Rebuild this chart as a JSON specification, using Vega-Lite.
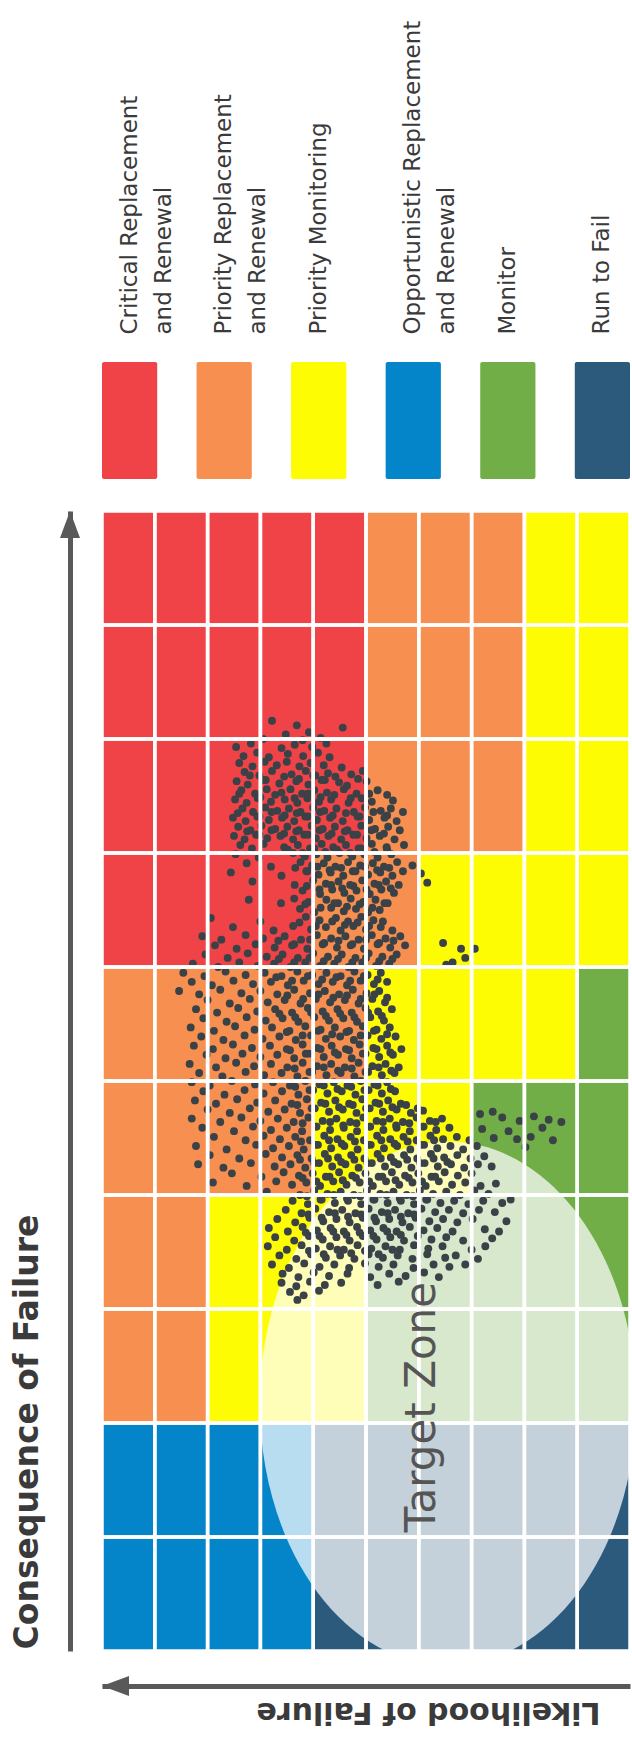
{
"$schema": "https://vega.github.io/schema/vega-lite/v6.json",
"padding": {"top": 20, "left": 11, "right": 0, "bottom": 14},
"background": "white",
"spacing": 30,
"config": {
  "view": {"stroke": null},
  "font": "DejaVu Sans",
  "axisTop": {"domain": false, "ticks": false, "tickSize": 0, "grid": false, "labelAngle": 270, "labelAlign": "left", "labelBaseline": "middle", "labelFontSize": 23, "labelLineHeight": 34, "labelPadding": 28, "labelColor": "#3a3a3a", "labelFont": "DejaVu Sans", "labelLimit": 500, "labelOverlap": false},
  "axisLeft": {"offset": 32, "domainColor": "#595959", "domainWidth": 5, "domainCap": "butt", "ticks": false, "labels": false, "grid": false, "titleAngle": 270, "titleAlign": "left", "titleBaseline": "bottom", "titleY": 1138, "titlePadding": 26, "titleFontSize": 33, "titleFontWeight": "bold", "titleColor": "#3a3a3a", "titleFont": "DejaVu Sans"},
  "axisBottom": {"offset": 35, "domainColor": "#595959", "domainWidth": 5, "domainCap": "butt", "ticks": false, "labels": false, "grid": false, "titleAngle": 180, "titleAlign": "right", "titleBaseline": "alphabetic", "titleX": 154, "titlePadding": 16, "titleFontSize": 30, "titleFontWeight": "bold", "titleColor": "#3a3a3a", "titleFont": "DejaVu Sans"}
},
"datasets": {
"zones": [
{"zone": "Critical Replacement and Renewal"},
{"zone": "Priority Replacement and Renewal"},
{"zone": "Priority Monitoring"},
{"zone": "Opportunistic Replacement and Renewal"},
{"zone": "Monitor"},
{"zone": "Run to Fail"}
],
"annotation": [
{"label": "Target Zone"}
],
"cells": [
{"l0":90,"l1":100,"c0":90,"c1":100,"zone":"Critical Replacement and Renewal"},
{"l0":80,"l1":90,"c0":90,"c1":100,"zone":"Critical Replacement and Renewal"},
{"l0":70,"l1":80,"c0":90,"c1":100,"zone":"Critical Replacement and Renewal"},
{"l0":60,"l1":70,"c0":90,"c1":100,"zone":"Critical Replacement and Renewal"},
{"l0":50,"l1":60,"c0":90,"c1":100,"zone":"Critical Replacement and Renewal"},
{"l0":40,"l1":50,"c0":90,"c1":100,"zone":"Priority Replacement and Renewal"},
{"l0":30,"l1":40,"c0":90,"c1":100,"zone":"Priority Replacement and Renewal"},
{"l0":20,"l1":30,"c0":90,"c1":100,"zone":"Priority Replacement and Renewal"},
{"l0":10,"l1":20,"c0":90,"c1":100,"zone":"Priority Monitoring"},
{"l0":0,"l1":10,"c0":90,"c1":100,"zone":"Priority Monitoring"},
{"l0":90,"l1":100,"c0":80,"c1":90,"zone":"Critical Replacement and Renewal"},
{"l0":80,"l1":90,"c0":80,"c1":90,"zone":"Critical Replacement and Renewal"},
{"l0":70,"l1":80,"c0":80,"c1":90,"zone":"Critical Replacement and Renewal"},
{"l0":60,"l1":70,"c0":80,"c1":90,"zone":"Critical Replacement and Renewal"},
{"l0":50,"l1":60,"c0":80,"c1":90,"zone":"Critical Replacement and Renewal"},
{"l0":40,"l1":50,"c0":80,"c1":90,"zone":"Priority Replacement and Renewal"},
{"l0":30,"l1":40,"c0":80,"c1":90,"zone":"Priority Replacement and Renewal"},
{"l0":20,"l1":30,"c0":80,"c1":90,"zone":"Priority Replacement and Renewal"},
{"l0":10,"l1":20,"c0":80,"c1":90,"zone":"Priority Monitoring"},
{"l0":0,"l1":10,"c0":80,"c1":90,"zone":"Priority Monitoring"},
{"l0":90,"l1":100,"c0":70,"c1":80,"zone":"Critical Replacement and Renewal"},
{"l0":80,"l1":90,"c0":70,"c1":80,"zone":"Critical Replacement and Renewal"},
{"l0":70,"l1":80,"c0":70,"c1":80,"zone":"Critical Replacement and Renewal"},
{"l0":60,"l1":70,"c0":70,"c1":80,"zone":"Critical Replacement and Renewal"},
{"l0":50,"l1":60,"c0":70,"c1":80,"zone":"Critical Replacement and Renewal"},
{"l0":40,"l1":50,"c0":70,"c1":80,"zone":"Priority Replacement and Renewal"},
{"l0":30,"l1":40,"c0":70,"c1":80,"zone":"Priority Replacement and Renewal"},
{"l0":20,"l1":30,"c0":70,"c1":80,"zone":"Priority Replacement and Renewal"},
{"l0":10,"l1":20,"c0":70,"c1":80,"zone":"Priority Monitoring"},
{"l0":0,"l1":10,"c0":70,"c1":80,"zone":"Priority Monitoring"},
{"l0":90,"l1":100,"c0":60,"c1":70,"zone":"Critical Replacement and Renewal"},
{"l0":80,"l1":90,"c0":60,"c1":70,"zone":"Critical Replacement and Renewal"},
{"l0":70,"l1":80,"c0":60,"c1":70,"zone":"Critical Replacement and Renewal"},
{"l0":60,"l1":70,"c0":60,"c1":70,"zone":"Critical Replacement and Renewal"},
{"l0":50,"l1":60,"c0":60,"c1":70,"zone":"Priority Replacement and Renewal"},
{"l0":40,"l1":50,"c0":60,"c1":70,"zone":"Priority Replacement and Renewal"},
{"l0":30,"l1":40,"c0":60,"c1":70,"zone":"Priority Monitoring"},
{"l0":20,"l1":30,"c0":60,"c1":70,"zone":"Priority Monitoring"},
{"l0":10,"l1":20,"c0":60,"c1":70,"zone":"Priority Monitoring"},
{"l0":0,"l1":10,"c0":60,"c1":70,"zone":"Priority Monitoring"},
{"l0":90,"l1":100,"c0":50,"c1":60,"zone":"Priority Replacement and Renewal"},
{"l0":80,"l1":90,"c0":50,"c1":60,"zone":"Priority Replacement and Renewal"},
{"l0":70,"l1":80,"c0":50,"c1":60,"zone":"Priority Replacement and Renewal"},
{"l0":60,"l1":70,"c0":50,"c1":60,"zone":"Priority Replacement and Renewal"},
{"l0":50,"l1":60,"c0":50,"c1":60,"zone":"Priority Replacement and Renewal"},
{"l0":40,"l1":50,"c0":50,"c1":60,"zone":"Priority Monitoring"},
{"l0":30,"l1":40,"c0":50,"c1":60,"zone":"Priority Monitoring"},
{"l0":20,"l1":30,"c0":50,"c1":60,"zone":"Priority Monitoring"},
{"l0":10,"l1":20,"c0":50,"c1":60,"zone":"Priority Monitoring"},
{"l0":0,"l1":10,"c0":50,"c1":60,"zone":"Monitor"},
{"l0":90,"l1":100,"c0":40,"c1":50,"zone":"Priority Replacement and Renewal"},
{"l0":80,"l1":90,"c0":40,"c1":50,"zone":"Priority Replacement and Renewal"},
{"l0":70,"l1":80,"c0":40,"c1":50,"zone":"Priority Replacement and Renewal"},
{"l0":60,"l1":70,"c0":40,"c1":50,"zone":"Priority Replacement and Renewal"},
{"l0":50,"l1":60,"c0":40,"c1":50,"zone":"Priority Monitoring"},
{"l0":40,"l1":50,"c0":40,"c1":50,"zone":"Priority Monitoring"},
{"l0":30,"l1":40,"c0":40,"c1":50,"zone":"Priority Monitoring"},
{"l0":20,"l1":30,"c0":40,"c1":50,"zone":"Monitor"},
{"l0":10,"l1":20,"c0":40,"c1":50,"zone":"Monitor"},
{"l0":0,"l1":10,"c0":40,"c1":50,"zone":"Monitor"},
{"l0":90,"l1":100,"c0":30,"c1":40,"zone":"Priority Replacement and Renewal"},
{"l0":80,"l1":90,"c0":30,"c1":40,"zone":"Priority Replacement and Renewal"},
{"l0":70,"l1":80,"c0":30,"c1":40,"zone":"Priority Monitoring"},
{"l0":60,"l1":70,"c0":30,"c1":40,"zone":"Priority Monitoring"},
{"l0":50,"l1":60,"c0":30,"c1":40,"zone":"Priority Monitoring"},
{"l0":40,"l1":50,"c0":30,"c1":40,"zone":"Monitor"},
{"l0":30,"l1":40,"c0":30,"c1":40,"zone":"Monitor"},
{"l0":20,"l1":30,"c0":30,"c1":40,"zone":"Monitor"},
{"l0":10,"l1":20,"c0":30,"c1":40,"zone":"Monitor"},
{"l0":0,"l1":10,"c0":30,"c1":40,"zone":"Monitor"},
{"l0":90,"l1":100,"c0":20,"c1":30,"zone":"Priority Replacement and Renewal"},
{"l0":80,"l1":90,"c0":20,"c1":30,"zone":"Priority Replacement and Renewal"},
{"l0":70,"l1":80,"c0":20,"c1":30,"zone":"Priority Monitoring"},
{"l0":60,"l1":70,"c0":20,"c1":30,"zone":"Priority Monitoring"},
{"l0":50,"l1":60,"c0":20,"c1":30,"zone":"Priority Monitoring"},
{"l0":40,"l1":50,"c0":20,"c1":30,"zone":"Monitor"},
{"l0":30,"l1":40,"c0":20,"c1":30,"zone":"Monitor"},
{"l0":20,"l1":30,"c0":20,"c1":30,"zone":"Monitor"},
{"l0":10,"l1":20,"c0":20,"c1":30,"zone":"Monitor"},
{"l0":0,"l1":10,"c0":20,"c1":30,"zone":"Monitor"},
{"l0":90,"l1":100,"c0":10,"c1":20,"zone":"Opportunistic Replacement and Renewal"},
{"l0":80,"l1":90,"c0":10,"c1":20,"zone":"Opportunistic Replacement and Renewal"},
{"l0":70,"l1":80,"c0":10,"c1":20,"zone":"Opportunistic Replacement and Renewal"},
{"l0":60,"l1":70,"c0":10,"c1":20,"zone":"Opportunistic Replacement and Renewal"},
{"l0":50,"l1":60,"c0":10,"c1":20,"zone":"Run to Fail"},
{"l0":40,"l1":50,"c0":10,"c1":20,"zone":"Run to Fail"},
{"l0":30,"l1":40,"c0":10,"c1":20,"zone":"Run to Fail"},
{"l0":20,"l1":30,"c0":10,"c1":20,"zone":"Run to Fail"},
{"l0":10,"l1":20,"c0":10,"c1":20,"zone":"Run to Fail"},
{"l0":0,"l1":10,"c0":10,"c1":20,"zone":"Run to Fail"},
{"l0":90,"l1":100,"c0":0,"c1":10,"zone":"Opportunistic Replacement and Renewal"},
{"l0":80,"l1":90,"c0":0,"c1":10,"zone":"Opportunistic Replacement and Renewal"},
{"l0":70,"l1":80,"c0":0,"c1":10,"zone":"Opportunistic Replacement and Renewal"},
{"l0":60,"l1":70,"c0":0,"c1":10,"zone":"Opportunistic Replacement and Renewal"},
{"l0":50,"l1":60,"c0":0,"c1":10,"zone":"Run to Fail"},
{"l0":40,"l1":50,"c0":0,"c1":10,"zone":"Run to Fail"},
{"l0":30,"l1":40,"c0":0,"c1":10,"zone":"Run to Fail"},
{"l0":20,"l1":30,"c0":0,"c1":10,"zone":"Run to Fail"},
{"l0":10,"l1":20,"c0":0,"c1":10,"zone":"Run to Fail"},
{"l0":0,"l1":10,"c0":0,"c1":10,"zone":"Run to Fail"}
],
"assets": [
{"l":67.8,"c":81.6},{"l":54.4,"c":81.0},{"l":63.1,"c":81.2},{"l":65.2,"c":80.4},{"l":60.8,"c":80.6},
{"l":62.0,"c":79.9},{"l":58.6,"c":80.1},{"l":69.5,"c":80.0},
{"l":74.6,"c":79.3},{"l":71.8,"c":79.6},{"l":66.0,"c":79.2},{"l":63.5,"c":79.5},{"l":60.2,"c":79.3},{"l":57.5,"c":79.6},
{"l":73.2,"c":78.5},{"l":70.6,"c":78.8},{"l":68.4,"c":78.4},{"l":64.8,"c":78.7},{"l":61.9,"c":78.5},{"l":59.1,"c":78.8},{"l":56.9,"c":78.4},
{"l":74.0,"c":77.9},{"l":71.5,"c":77.6},{"l":69.2,"c":78.0},{"l":66.9,"c":77.7},{"l":65.0,"c":78.0},{"l":62.6,"c":77.6},{"l":60.5,"c":77.9},{"l":58.0,"c":77.7},{"l":54.6,"c":77.5},
{"l":73.0,"c":77.1},{"l":70.2,"c":76.8},{"l":67.8,"c":77.2},{"l":64.1,"c":76.9},{"l":61.4,"c":77.2},{"l":59.6,"c":76.8},{"l":57.2,"c":77.0},{"l":52.8,"c":76.9},{"l":50.6,"c":77.2},
{"l":74.5,"c":76.3},{"l":72.4,"c":76.0},{"l":69.6,"c":76.4},{"l":66.4,"c":76.1},{"l":63.2,"c":76.3},{"l":60.9,"c":76.0},{"l":58.4,"c":76.4},{"l":55.1,"c":76.2},{"l":53.6,"c":75.9},{"l":49.9,"c":76.3},
{"l":73.6,"c":75.5},{"l":71.0,"c":75.2},{"l":68.8,"c":75.6},{"l":66.0,"c":75.3},{"l":64.3,"c":75.6},{"l":62.1,"c":75.2},{"l":59.8,"c":75.5},{"l":57.4,"c":75.3},{"l":54.2,"c":75.6},{"l":51.8,"c":75.2},{"l":47.8,"c":75.5},{"l":46.0,"c":75.1},
{"l":74.8,"c":74.7},{"l":72.6,"c":74.4},{"l":70.5,"c":74.8},{"l":68.0,"c":74.5},{"l":65.4,"c":74.7},{"l":63.0,"c":74.4},{"l":61.1,"c":74.8},{"l":58.9,"c":74.5},{"l":56.6,"c":74.7},{"l":53.3,"c":74.4},{"l":50.8,"c":74.8},{"l":48.9,"c":74.5},{"l":44.9,"c":74.6},
{"l":73.4,"c":73.9},{"l":71.4,"c":73.6},{"l":69.1,"c":74.0},{"l":66.8,"c":73.7},{"l":64.6,"c":73.9},{"l":62.4,"c":73.6},{"l":60.0,"c":74.0},{"l":57.9,"c":73.7},{"l":55.6,"c":73.9},{"l":52.3,"c":73.6},{"l":50.2,"c":74.0},{"l":47.2,"c":73.7},{"l":45.3,"c":73.9},{"l":43.0,"c":73.6},
{"l":75.2,"c":73.1},{"l":72.8,"c":72.8},{"l":70.6,"c":73.2},{"l":68.4,"c":72.9},{"l":65.9,"c":73.1},{"l":63.6,"c":72.8},{"l":61.5,"c":73.2},{"l":59.3,"c":72.9},{"l":56.8,"c":73.1},{"l":54.4,"c":72.8},{"l":51.6,"c":73.2},{"l":49.4,"c":72.9},{"l":46.5,"c":73.1},{"l":44.2,"c":72.8},
{"l":74.2,"c":72.3},{"l":71.9,"c":72.0},{"l":69.8,"c":72.4},{"l":67.2,"c":72.1},{"l":64.9,"c":72.3},{"l":62.7,"c":72.0},{"l":60.3,"c":72.4},{"l":58.2,"c":72.1},{"l":55.9,"c":72.3},{"l":53.5,"c":72.0},{"l":50.9,"c":72.4},{"l":48.3,"c":72.1},{"l":45.8,"c":72.3},{"l":43.6,"c":72.0},
{"l":75.0,"c":71.5},{"l":73.0,"c":71.2},{"l":70.8,"c":71.6},{"l":68.7,"c":71.3},{"l":66.2,"c":71.5},{"l":63.8,"c":71.2},{"l":61.7,"c":71.6},{"l":59.5,"c":71.3},{"l":57.1,"c":71.5},{"l":54.7,"c":71.2},{"l":52.4,"c":71.6},{"l":49.9,"c":71.3},{"l":47.4,"c":71.5},{"l":44.6,"c":71.2},
{"l":73.8,"c":70.7},{"l":71.6,"c":70.4},{"l":69.4,"c":70.8},{"l":65.5,"c":70.5},{"l":62.9,"c":70.7},{"l":60.6,"c":70.4},{"l":58.4,"c":70.8},{"l":56.2,"c":70.5},{"l":53.8,"c":70.7},{"l":51.4,"c":70.4},{"l":48.9,"c":70.8},{"l":46.1,"c":70.5},{"l":42.8,"c":70.7},
{"l":74.7,"c":69.9},{"l":70.3,"c":69.6},{"l":63.8,"c":70.0},{"l":61.6,"c":69.7},{"l":59.4,"c":69.9},{"l":57.3,"c":69.6},{"l":55.0,"c":70.0},{"l":52.6,"c":69.7},{"l":50.3,"c":69.9},{"l":47.8,"c":69.6},{"l":45.2,"c":69.9},
{"l":72.6,"c":69.1},{"l":68.0,"c":68.8},{"l":62.4,"c":69.2},{"l":60.2,"c":68.9},{"l":58.0,"c":69.1},{"l":55.8,"c":68.8},{"l":53.4,"c":69.2},{"l":51.1,"c":68.9},{"l":48.7,"c":69.1},{"l":46.6,"c":68.8},{"l":44.1,"c":69.2},{"l":41.2,"c":68.9},
{"l":75.6,"c":68.3},{"l":66.0,"c":68.0},{"l":61.1,"c":68.4},{"l":59.0,"c":68.1},{"l":56.7,"c":68.3},{"l":54.3,"c":68.0},{"l":52.0,"c":68.4},{"l":49.6,"c":68.1},{"l":47.3,"c":68.3},{"l":45.0,"c":68.0},{"l":39.6,"c":68.2},
{"l":71.5,"c":67.5},{"l":63.5,"c":67.2},{"l":60.0,"c":67.6},{"l":57.6,"c":67.3},{"l":55.2,"c":67.5},{"l":53.0,"c":67.2},{"l":50.7,"c":67.6},{"l":48.4,"c":67.3},{"l":46.2,"c":67.5},{"l":43.8,"c":67.2},{"l":38.4,"c":67.4},
{"l":62.0,"c":66.7},{"l":58.7,"c":66.4},{"l":56.4,"c":66.8},{"l":54.1,"c":66.5},{"l":51.8,"c":66.7},{"l":49.3,"c":66.4},{"l":47.1,"c":66.8},{"l":44.7,"c":66.5},
{"l":72.2,"c":65.9},{"l":66.1,"c":65.6},{"l":63.6,"c":66.0},{"l":60.9,"c":65.7},{"l":57.5,"c":65.9},{"l":55.3,"c":65.6},{"l":52.9,"c":66.0},{"l":50.5,"c":65.7},{"l":48.2,"c":65.9},{"l":45.9,"c":65.6},
{"l":62.5,"c":65.1},{"l":59.8,"c":64.8},{"l":56.6,"c":65.2},{"l":54.2,"c":64.9},{"l":51.9,"c":65.1},{"l":49.6,"c":64.8},{"l":47.4,"c":65.0},
{"l":79.4,"c":64.3},{"l":70.0,"c":64.0},{"l":61.4,"c":64.4},{"l":58.8,"c":64.1},{"l":55.7,"c":64.3},{"l":53.4,"c":64.0},{"l":50.9,"c":64.4},{"l":48.6,"c":64.1},
{"l":75.2,"c":63.5},{"l":67.5,"c":63.2},{"l":63.8,"c":63.6},{"l":60.4,"c":63.3},{"l":57.6,"c":63.5},{"l":54.8,"c":63.2},{"l":52.4,"c":63.6},{"l":50.0,"c":63.3},{"l":47.2,"c":63.5},{"l":45.0,"c":63.2},
{"l":81.0,"c":62.7},{"l":77.4,"c":62.4},{"l":72.8,"c":62.8},{"l":69.5,"c":62.5},{"l":65.4,"c":62.7},{"l":62.3,"c":62.4},{"l":59.3,"c":62.8},{"l":56.6,"c":62.5},{"l":53.9,"c":62.7},{"l":51.4,"c":62.4},{"l":48.9,"c":62.8},{"l":46.3,"c":62.5},{"l":43.5,"c":62.7},{"l":35.4,"c":62.1},
{"l":78.6,"c":61.9},{"l":74.5,"c":61.6},{"l":70.9,"c":62.0},{"l":67.3,"c":61.7},{"l":64.0,"c":61.9},{"l":61.1,"c":61.6},{"l":58.2,"c":62.0},{"l":55.5,"c":61.7},{"l":52.9,"c":61.9},{"l":50.4,"c":61.6},{"l":47.8,"c":62.0},{"l":45.4,"c":61.7},{"l":42.6,"c":61.9},{"l":32.0,"c":61.6},{"l":29.4,"c":61.6},
{"l":80.4,"c":61.1},{"l":76.2,"c":60.8},{"l":72.4,"c":61.2},{"l":68.8,"c":60.9},{"l":65.8,"c":61.1},{"l":62.9,"c":60.8},{"l":60.0,"c":61.2},{"l":57.2,"c":60.9},{"l":54.6,"c":61.1},{"l":52.0,"c":60.8},{"l":49.5,"c":61.2},{"l":46.9,"c":60.9},{"l":44.2,"c":61.1},{"l":33.6,"c":60.4},
{"l":82.8,"c":60.3},{"l":78.0,"c":60.0},{"l":74.0,"c":60.4},{"l":70.5,"c":60.1},{"l":67.4,"c":60.3},{"l":64.3,"c":60.0},{"l":61.5,"c":60.4},{"l":58.7,"c":60.1},{"l":56.0,"c":60.3},{"l":53.3,"c":60.0},{"l":50.7,"c":60.4},{"l":48.1,"c":60.1},{"l":45.6,"c":60.3},{"l":34.8,"c":60.2},{"l":31.2,"c":60.8},
{"l":84.6,"c":59.5},{"l":80.6,"c":59.2},{"l":76.6,"c":59.6},{"l":72.8,"c":59.3},{"l":69.2,"c":59.5},{"l":66.0,"c":59.2},{"l":63.0,"c":59.6},{"l":60.2,"c":59.3},{"l":57.5,"c":59.5},{"l":54.8,"c":59.2},{"l":52.2,"c":59.6},{"l":49.7,"c":59.3},{"l":47.2,"c":59.5},
{"l":83.0,"c":58.7},{"l":79.2,"c":58.4},{"l":75.1,"c":58.8},{"l":71.4,"c":58.5},{"l":68.0,"c":58.7},{"l":64.8,"c":58.4},{"l":61.8,"c":58.8},{"l":59.0,"c":58.5},{"l":56.3,"c":58.7},{"l":53.6,"c":58.4},{"l":51.0,"c":58.8},{"l":48.5,"c":58.5},{"l":46.0,"c":58.7},
{"l":85.4,"c":57.9},{"l":81.6,"c":57.6},{"l":77.6,"c":58.0},{"l":73.6,"c":57.7},{"l":70.0,"c":57.9},{"l":66.8,"c":57.6},{"l":63.6,"c":58.0},{"l":60.6,"c":57.7},{"l":57.8,"c":57.9},{"l":55.1,"c":57.6},{"l":52.5,"c":58.0},{"l":49.9,"c":57.7},{"l":47.5,"c":57.9},
{"l":80.0,"c":57.1},{"l":75.8,"c":56.8},{"l":72.0,"c":57.2},{"l":68.6,"c":56.9},{"l":65.4,"c":57.1},{"l":62.4,"c":56.8},{"l":59.5,"c":57.2},{"l":56.8,"c":56.9},{"l":54.0,"c":57.1},{"l":51.4,"c":56.8},{"l":48.8,"c":57.2},{"l":46.4,"c":56.9},
{"l":82.2,"c":56.3},{"l":78.2,"c":56.0},{"l":74.2,"c":56.4},{"l":70.6,"c":56.1},{"l":67.2,"c":56.3},{"l":64.0,"c":56.0},{"l":61.0,"c":56.4},{"l":58.2,"c":56.1},{"l":55.4,"c":56.3},{"l":52.7,"c":56.0},{"l":50.1,"c":56.4},{"l":47.7,"c":56.1},{"l":45.1,"c":56.3},
{"l":80.8,"c":55.5},{"l":76.4,"c":55.2},{"l":72.6,"c":55.6},{"l":69.0,"c":55.3},{"l":65.8,"c":55.5},{"l":62.8,"c":55.2},{"l":59.8,"c":55.6},{"l":57.0,"c":55.3},{"l":54.3,"c":55.5},{"l":51.7,"c":55.2},{"l":49.2,"c":55.6},{"l":46.6,"c":55.3},
{"l":83.2,"c":54.7},{"l":78.8,"c":54.4},{"l":74.8,"c":54.8},{"l":71.1,"c":54.5},{"l":67.8,"c":54.7},{"l":64.5,"c":54.4},{"l":61.5,"c":54.8},{"l":58.6,"c":54.5},{"l":55.9,"c":54.7},{"l":53.2,"c":54.4},{"l":50.6,"c":54.8},{"l":48.0,"c":54.5},{"l":45.5,"c":54.7},
{"l":81.2,"c":53.9},{"l":77.0,"c":53.6},{"l":73.0,"c":54.0},{"l":69.6,"c":53.7},{"l":66.4,"c":53.9},{"l":63.3,"c":53.6},{"l":60.4,"c":54.0},{"l":57.6,"c":53.7},{"l":54.9,"c":53.9},{"l":52.3,"c":53.6},{"l":49.7,"c":54.0},{"l":47.1,"c":53.7},{"l":44.4,"c":53.9},
{"l":82.6,"c":53.1},{"l":79.0,"c":52.8},{"l":75.2,"c":53.2},{"l":71.6,"c":52.9},{"l":68.2,"c":53.1},{"l":65.0,"c":52.8},{"l":62.0,"c":53.2},{"l":59.2,"c":52.9},{"l":56.5,"c":53.1},{"l":53.8,"c":52.8},{"l":51.2,"c":53.2},{"l":48.6,"c":52.9},{"l":46.0,"c":53.1},{"l":43.3,"c":52.8},
{"l":80.2,"c":52.3},{"l":76.6,"c":52.0},{"l":73.4,"c":52.4},{"l":70.0,"c":52.1},{"l":66.8,"c":52.3},{"l":63.6,"c":52.0},{"l":60.8,"c":52.4},{"l":58.0,"c":52.1},{"l":55.3,"c":52.3},{"l":52.7,"c":52.0},{"l":50.1,"c":52.4},{"l":47.5,"c":52.1},{"l":44.9,"c":52.3},
{"l":83.4,"c":51.5},{"l":78.4,"c":51.2},{"l":74.6,"c":51.6},{"l":71.2,"c":51.3},{"l":68.0,"c":51.5},{"l":64.9,"c":51.2},{"l":62.0,"c":51.6},{"l":59.3,"c":51.3},{"l":56.6,"c":51.5},{"l":54.0,"c":51.2},{"l":51.4,"c":51.6},{"l":48.8,"c":51.3},{"l":46.3,"c":51.5},{"l":43.8,"c":51.2},
{"l":81.6,"c":50.7},{"l":77.2,"c":50.4},{"l":72.8,"c":50.8},{"l":69.3,"c":50.5},{"l":66.0,"c":50.7},{"l":63.0,"c":50.4},{"l":60.2,"c":50.8},{"l":57.5,"c":50.5},{"l":54.8,"c":50.7},{"l":52.2,"c":50.4},{"l":49.6,"c":50.8},{"l":47.0,"c":50.5},{"l":44.6,"c":50.7},
{"l":83.0,"c":49.9},{"l":79.6,"c":49.6},{"l":75.4,"c":50.0},{"l":71.0,"c":49.7},{"l":67.6,"c":49.9},{"l":64.4,"c":49.6},{"l":61.5,"c":50.0},{"l":58.8,"c":49.7},{"l":56.1,"c":49.9},{"l":53.5,"c":49.6},{"l":51.0,"c":50.0},{"l":48.4,"c":49.7},{"l":46.0,"c":49.9},
{"l":80.8,"c":49.1},{"l":76.8,"c":48.8},{"l":73.0,"c":49.2},{"l":69.4,"c":48.9},{"l":65.9,"c":49.1},{"l":62.8,"c":48.8},{"l":60.0,"c":49.2},{"l":57.3,"c":48.9},{"l":54.6,"c":49.1},{"l":52.0,"c":48.8},{"l":49.5,"c":49.2},{"l":47.0,"c":48.9},{"l":44.5,"c":49.1},
{"l":82.4,"c":48.3},{"l":78.4,"c":48.0},{"l":74.4,"c":48.4},{"l":70.6,"c":48.1},{"l":67.2,"c":48.3},{"l":64.1,"c":48.0},{"l":61.2,"c":48.4},{"l":58.5,"c":48.1},{"l":55.8,"c":48.3},{"l":53.2,"c":48.0},{"l":50.7,"c":48.4},{"l":48.2,"c":48.1},{"l":45.8,"c":48.3},{"l":43.4,"c":48.0},
{"l":80.0,"c":47.5},{"l":75.8,"c":47.2},{"l":72.0,"c":47.6},{"l":68.5,"c":47.3},{"l":65.4,"c":47.5},{"l":62.5,"c":47.2},{"l":59.7,"c":47.6},{"l":57.0,"c":47.3},{"l":54.4,"c":47.5},{"l":51.8,"c":47.2},{"l":49.3,"c":47.6},{"l":46.8,"c":47.3},{"l":44.2,"c":47.5},{"l":41.5,"c":47.2},{"l":39.2,"c":47.4},{"l":28.4,"c":47.1},{"l":26.0,"c":47.3},
{"l":83.0,"c":46.7},{"l":77.6,"c":46.4},{"l":73.6,"c":46.8},{"l":70.0,"c":46.5},{"l":66.7,"c":46.7},{"l":63.7,"c":46.4},{"l":60.9,"c":46.8},{"l":58.2,"c":46.5},{"l":55.6,"c":46.7},{"l":53.0,"c":46.4},{"l":50.5,"c":46.8},{"l":48.0,"c":46.5},{"l":45.5,"c":46.7},{"l":43.0,"c":46.4},{"l":40.4,"c":46.8},{"l":37.9,"c":46.5},{"l":35.6,"c":46.7},{"l":24.2,"c":46.8},{"l":20.9,"c":46.5},{"l":18.2,"c":46.9},{"l":15.4,"c":46.6},{"l":13.0,"c":46.4},
{"l":81.0,"c":45.9},{"l":75.0,"c":45.6},{"l":71.4,"c":46.0},{"l":68.0,"c":45.7},{"l":65.0,"c":45.9},{"l":62.1,"c":45.6},{"l":59.4,"c":46.0},{"l":56.8,"c":45.7},{"l":54.2,"c":45.9},{"l":51.7,"c":45.6},{"l":49.2,"c":46.0},{"l":46.7,"c":45.7},{"l":44.2,"c":45.9},{"l":41.7,"c":45.6},{"l":39.1,"c":46.0},{"l":36.7,"c":45.7},{"l":34.2,"c":45.9},{"l":28.0,"c":45.8},{"l":23.0,"c":45.6},{"l":16.6,"c":45.9},
{"l":78.8,"c":45.1},{"l":72.8,"c":44.8},{"l":69.4,"c":45.2},{"l":66.3,"c":44.9},{"l":63.4,"c":45.1},{"l":60.6,"c":44.8},{"l":57.9,"c":45.2},{"l":55.4,"c":44.9},{"l":52.9,"c":45.1},{"l":50.4,"c":44.8},{"l":47.9,"c":45.2},{"l":45.4,"c":44.9},{"l":42.9,"c":45.1},{"l":40.4,"c":44.8},{"l":37.8,"c":45.2},{"l":35.4,"c":44.9},{"l":32.8,"c":45.1},{"l":30.4,"c":44.8},{"l":25.8,"c":45.0},{"l":21.4,"c":44.9},{"l":18.8,"c":45.1},{"l":14.6,"c":44.8},
{"l":82.2,"c":44.3},{"l":76.4,"c":44.0},{"l":70.8,"c":44.4},{"l":67.6,"c":44.1},{"l":64.6,"c":44.3},{"l":61.8,"c":44.0},{"l":59.1,"c":44.4},{"l":56.6,"c":44.1},{"l":54.1,"c":44.3},{"l":51.6,"c":44.0},{"l":49.1,"c":44.4},{"l":46.6,"c":44.1},{"l":44.1,"c":44.3},{"l":41.6,"c":44.0},{"l":39.0,"c":44.4},{"l":36.5,"c":44.1},{"l":34.0,"c":44.3},{"l":31.6,"c":44.0},{"l":29.0,"c":44.3},{"l":19.8,"c":44.2},
{"l":79.6,"c":43.5},{"l":74.0,"c":43.2},{"l":69.0,"c":43.6},{"l":65.9,"c":43.3},{"l":63.0,"c":43.5},{"l":60.3,"c":43.2},{"l":57.8,"c":43.6},{"l":55.3,"c":43.3},{"l":52.8,"c":43.5},{"l":50.3,"c":43.2},{"l":47.8,"c":43.6},{"l":45.3,"c":43.3},{"l":42.8,"c":43.5},{"l":40.3,"c":43.2},{"l":37.7,"c":43.6},{"l":35.2,"c":43.3},{"l":32.7,"c":43.5},{"l":30.2,"c":43.2},{"l":27.6,"c":43.4},
{"l":81.8,"c":42.7},{"l":77.0,"c":42.4},{"l":71.8,"c":42.8},{"l":67.3,"c":42.5},{"l":64.3,"c":42.7},{"l":61.5,"c":42.4},{"l":58.9,"c":42.8},{"l":56.4,"c":42.5},{"l":53.9,"c":42.7},{"l":51.4,"c":42.4},{"l":48.9,"c":42.8},{"l":46.4,"c":42.5},{"l":43.9,"c":42.7},{"l":41.4,"c":42.4},{"l":38.9,"c":42.8},{"l":36.4,"c":42.5},{"l":33.9,"c":42.7},{"l":31.4,"c":42.4},{"l":28.8,"c":42.7},{"l":26.2,"c":42.5},
{"l":75.4,"c":41.9},{"l":69.8,"c":41.6},{"l":65.6,"c":42.0},{"l":62.7,"c":41.7},{"l":60.1,"c":41.9},{"l":57.6,"c":41.6},{"l":55.1,"c":42.0},{"l":52.6,"c":41.7},{"l":50.1,"c":41.9},{"l":47.6,"c":41.6},{"l":45.1,"c":42.0},{"l":42.6,"c":41.7},{"l":40.1,"c":41.9},{"l":37.6,"c":41.6},{"l":35.1,"c":42.0},{"l":32.6,"c":41.7},{"l":30.0,"c":41.9},
{"l":79.0,"c":41.1},{"l":72.6,"c":40.8},{"l":67.0,"c":41.2},{"l":64.0,"c":40.9},{"l":61.3,"c":41.1},{"l":58.7,"c":40.8},{"l":56.2,"c":41.2},{"l":53.7,"c":40.9},{"l":51.2,"c":41.1},{"l":48.7,"c":40.8},{"l":46.2,"c":41.2},{"l":43.7,"c":40.9},{"l":41.2,"c":41.1},{"l":38.7,"c":40.8},{"l":36.2,"c":41.2},{"l":33.7,"c":40.9},{"l":31.2,"c":41.1},{"l":28.3,"c":40.8},{"l":25.4,"c":41.0},
{"l":68.8,"c":40.3},{"l":62.5,"c":40.0},{"l":59.8,"c":40.4},{"l":57.3,"c":40.1},{"l":54.8,"c":40.3},{"l":52.3,"c":40.0},{"l":49.8,"c":40.4},{"l":47.3,"c":40.1},{"l":44.8,"c":40.3},{"l":42.3,"c":40.0},{"l":39.8,"c":40.4},{"l":37.3,"c":40.1},{"l":34.8,"c":40.3},{"l":32.2,"c":40.0},{"l":29.5,"c":40.4},{"l":26.8,"c":40.1},
{"l":63.9,"c":39.5},{"l":61.0,"c":39.2},{"l":58.4,"c":39.6},{"l":55.9,"c":39.3},{"l":53.4,"c":39.5},{"l":50.9,"c":39.2},{"l":48.4,"c":39.6},{"l":45.9,"c":39.3},{"l":43.4,"c":39.5},{"l":40.9,"c":39.2},{"l":38.4,"c":39.6},{"l":35.9,"c":39.3},{"l":33.3,"c":39.5},{"l":30.6,"c":39.2},{"l":27.8,"c":39.5},{"l":24.2,"c":39.3},{"l":22.6,"c":39.6},
{"l":65.2,"c":38.7},{"l":62.2,"c":38.4},{"l":59.6,"c":38.8},{"l":57.0,"c":38.5},{"l":54.5,"c":38.7},{"l":52.0,"c":38.4},{"l":49.5,"c":38.8},{"l":47.0,"c":38.5},{"l":44.5,"c":38.7},{"l":42.0,"c":38.4},{"l":39.5,"c":38.8},{"l":36.9,"c":38.5},{"l":34.3,"c":38.7},{"l":31.6,"c":38.4},{"l":28.6,"c":38.7},{"l":25.6,"c":38.5},
{"l":66.8,"c":37.9},{"l":63.4,"c":37.6},{"l":60.7,"c":38.0},{"l":58.1,"c":37.7},{"l":55.6,"c":37.9},{"l":53.1,"c":37.6},{"l":50.6,"c":38.0},{"l":48.1,"c":37.7},{"l":45.6,"c":37.9},{"l":43.1,"c":37.6},{"l":40.6,"c":38.0},{"l":38.0,"c":37.7},{"l":35.4,"c":37.9},{"l":32.7,"c":37.6},{"l":29.8,"c":37.9},{"l":23.4,"c":37.7},
{"l":68.4,"c":37.1},{"l":64.8,"c":36.8},{"l":62.0,"c":37.2},{"l":59.3,"c":36.9},{"l":56.7,"c":37.1},{"l":54.2,"c":36.8},{"l":51.7,"c":37.2},{"l":49.2,"c":36.9},{"l":46.7,"c":37.1},{"l":44.2,"c":36.8},{"l":41.7,"c":37.2},{"l":39.1,"c":36.9},{"l":36.5,"c":37.1},{"l":33.6,"c":36.8},{"l":27.5,"c":37.0},{"l":24.8,"c":36.8},
{"l":67.2,"c":36.3},{"l":63.6,"c":36.0},{"l":60.8,"c":36.4},{"l":58.2,"c":36.1},{"l":55.6,"c":36.3},{"l":53.1,"c":36.0},{"l":50.6,"c":36.4},{"l":48.0,"c":36.1},{"l":45.4,"c":36.3},{"l":42.8,"c":36.0},{"l":40.2,"c":36.4},{"l":37.6,"c":36.1},{"l":34.8,"c":36.3},{"l":31.6,"c":36.0},{"l":26.1,"c":36.2},
{"l":68.6,"c":35.5},{"l":65.0,"c":35.2},{"l":62.2,"c":35.6},{"l":59.5,"c":35.3},{"l":56.8,"c":35.5},{"l":54.2,"c":35.2},{"l":51.6,"c":35.6},{"l":49.0,"c":35.3},{"l":46.3,"c":35.5},{"l":43.6,"c":35.2},{"l":40.9,"c":35.6},{"l":38.2,"c":35.3},{"l":35.5,"c":35.5},{"l":30.0,"c":35.2},{"l":27.4,"c":35.5},
{"l":66.4,"c":34.7},{"l":63.2,"c":34.4},{"l":60.4,"c":34.8},{"l":57.6,"c":34.5},{"l":54.9,"c":34.7},{"l":52.2,"c":34.4},{"l":49.5,"c":34.8},{"l":46.8,"c":34.5},{"l":44.0,"c":34.7},{"l":41.2,"c":34.4},{"l":38.4,"c":34.8},{"l":35.0,"c":34.5},{"l":33.0,"c":34.7},{"l":28.8,"c":34.4},
{"l":67.8,"c":33.9},{"l":64.6,"c":33.6},{"l":61.7,"c":34.0},{"l":58.8,"c":33.7},{"l":56.0,"c":33.9},{"l":53.2,"c":33.6},{"l":50.2,"c":34.0},{"l":47.6,"c":33.7},{"l":44.8,"c":33.9},{"l":41.0,"c":33.6},{"l":37.2,"c":33.9},{"l":34.2,"c":33.7},{"l":31.2,"c":33.9},
{"l":65.8,"c":33.1},{"l":62.8,"c":32.8},{"l":59.9,"c":33.2},{"l":57.0,"c":32.9},{"l":53.5,"c":33.1},{"l":49.2,"c":32.8},{"l":45.6,"c":33.1},{"l":42.5,"c":32.9},{"l":39.0,"c":33.2},{"l":36.2,"c":32.8},
{"l":66.0,"c":32.3},{"l":63.2,"c":32.0},{"l":60.6,"c":32.4},{"l":57.8,"c":32.1},{"l":54.7,"c":32.3},{"l":47.8,"c":32.1},{"l":43.8,"c":32.4},
{"l":64.4,"c":31.5},{"l":61.8,"c":31.2},{"l":58.9,"c":31.6},{"l":63.0,"c":30.8},
{"l":72.0,"c":76.8},{"l":69.0,"c":76.4},{"l":65.5,"c":76.7},{"l":62.7,"c":76.5},{"l":60.0,"c":76.8},{"l":57.8,"c":76.4},{"l":55.8,"c":76.7},{"l":51.5,"c":76.5},
{"l":74.0,"c":75.2},{"l":70.0,"c":74.9},{"l":67.2,"c":75.1},{"l":63.5,"c":74.8},{"l":61.0,"c":75.2},{"l":58.6,"c":74.9},{"l":56.0,"c":75.1},{"l":52.9,"c":74.8},{"l":49.4,"c":75.2},
{"l":74.3,"c":73.5},{"l":70.2,"c":73.2},{"l":67.9,"c":73.6},{"l":65.4,"c":73.3},{"l":63.1,"c":73.5},{"l":61.0,"c":73.2},{"l":58.7,"c":73.6},{"l":56.3,"c":73.3},{"l":53.8,"c":73.5},{"l":51.2,"c":73.2},{"l":48.6,"c":73.6},{"l":46.0,"c":73.3},
{"l":72.5,"c":71.9},{"l":70.2,"c":71.6},{"l":67.9,"c":72.0},{"l":65.5,"c":71.7},{"l":63.2,"c":71.9},{"l":61.0,"c":71.6},{"l":58.8,"c":72.0},{"l":56.5,"c":71.7},{"l":54.0,"c":71.9},{"l":51.7,"c":71.6},{"l":49.0,"c":72.0},{"l":46.6,"c":71.7},
{"l":64.8,"c":70.3},{"l":62.0,"c":70.0},{"l":59.8,"c":70.4},{"l":57.7,"c":70.1},{"l":55.5,"c":70.3},{"l":53.0,"c":70.0},{"l":50.9,"c":70.4},{"l":48.4,"c":70.1},{"l":46.0,"c":70.3},
{"l":63.4,"c":68.7},{"l":61.3,"c":68.4},{"l":59.2,"c":68.8},{"l":56.9,"c":68.5},{"l":54.7,"c":68.7},{"l":52.5,"c":68.4},{"l":50.2,"c":68.8},{"l":47.9,"c":68.5},{"l":45.6,"c":68.7},{"l":43.0,"c":68.4},
{"l":61.2,"c":67.1},{"l":58.8,"c":66.8},{"l":56.6,"c":67.2},{"l":54.5,"c":66.9},{"l":52.4,"c":67.1},{"l":49.9,"c":66.8},{"l":47.6,"c":67.2},{"l":45.3,"c":66.9},
{"l":61.5,"c":65.5},{"l":58.6,"c":65.2},{"l":56.0,"c":65.6},{"l":53.6,"c":65.3},{"l":51.2,"c":65.5},{"l":48.8,"c":65.2},{"l":46.5,"c":65.6},
{"l":62.6,"c":63.9},{"l":59.5,"c":63.6},{"l":56.4,"c":64.0},{"l":54.0,"c":63.7},{"l":51.6,"c":63.9},{"l":49.4,"c":63.6},{"l":46.8,"c":64.0},
{"l":66.6,"c":62.3},{"l":63.6,"c":62.0},{"l":60.6,"c":62.4},{"l":57.9,"c":62.1},{"l":55.2,"c":62.3},{"l":52.6,"c":62.0},{"l":50.0,"c":62.4},{"l":47.5,"c":62.1},{"l":44.8,"c":62.3},
{"l":66.5,"c":60.7},{"l":63.6,"c":60.4},{"l":60.7,"c":60.8},{"l":58.0,"c":60.5},{"l":55.3,"c":60.7},{"l":52.6,"c":60.4},{"l":50.0,"c":60.8},{"l":47.5,"c":60.5},{"l":45.0,"c":60.7},
{"l":67.0,"c":59.1},{"l":64.0,"c":58.8},{"l":61.0,"c":59.2},{"l":58.3,"c":58.9},{"l":55.6,"c":59.1},{"l":53.0,"c":58.8},{"l":50.4,"c":59.2},{"l":47.8,"c":58.9},
{"l":64.9,"c":57.5},{"l":61.9,"c":57.2},{"l":59.0,"c":57.6},{"l":56.2,"c":57.3},{"l":53.6,"c":57.5},{"l":51.0,"c":57.2},{"l":48.4,"c":57.6},{"l":46.0,"c":57.3},
{"l":66.4,"c":55.9},{"l":63.4,"c":55.6},{"l":60.4,"c":56.0},{"l":57.6,"c":55.7},{"l":54.9,"c":55.9},{"l":52.2,"c":55.6},{"l":49.6,"c":56.0},{"l":47.0,"c":55.7},
{"l":65.0,"c":54.3},{"l":62.0,"c":54.0},{"l":59.1,"c":54.4},{"l":56.4,"c":54.1},{"l":53.7,"c":54.3},{"l":51.0,"c":54.0},{"l":48.5,"c":54.4},{"l":46.0,"c":54.1},
{"l":64.4,"c":52.7},{"l":61.4,"c":52.4},{"l":58.6,"c":52.8},{"l":55.9,"c":52.5},{"l":53.2,"c":52.7},{"l":50.6,"c":52.4},{"l":48.0,"c":52.8},{"l":45.4,"c":52.5},
{"l":63.5,"c":51.1},{"l":60.7,"c":50.8},{"l":58.0,"c":51.2},{"l":55.3,"c":50.9},{"l":52.7,"c":51.1},{"l":50.1,"c":50.8},{"l":47.6,"c":51.2},{"l":45.2,"c":50.9},
{"l":63.4,"c":49.5},{"l":60.7,"c":49.2},{"l":58.0,"c":49.6},{"l":55.4,"c":49.3},{"l":52.8,"c":49.5},{"l":50.3,"c":49.2},{"l":47.8,"c":49.6},{"l":45.3,"c":49.3},
{"l":63.0,"c":47.9},{"l":60.3,"c":47.6},{"l":57.7,"c":48.0},{"l":55.1,"c":47.7},{"l":52.5,"c":47.9},{"l":50.0,"c":47.6},{"l":47.5,"c":48.0},{"l":45.0,"c":47.7},{"l":42.4,"c":47.9},{"l":40.2,"c":47.6},
{"l":62.0,"c":46.3},{"l":59.4,"c":46.0},{"l":56.8,"c":46.4},{"l":54.3,"c":46.1},{"l":51.8,"c":46.3},{"l":49.3,"c":46.0},{"l":46.8,"c":46.4},{"l":44.3,"c":46.1},{"l":41.8,"c":46.3},{"l":39.2,"c":46.0},{"l":36.8,"c":46.4},
{"l":62.3,"c":44.7},{"l":59.6,"c":44.4},{"l":57.0,"c":44.8},{"l":54.6,"c":44.5},{"l":52.1,"c":44.7},{"l":49.6,"c":44.4},{"l":47.1,"c":44.8},{"l":44.6,"c":44.5},{"l":42.1,"c":44.7},{"l":39.6,"c":44.4},{"l":37.1,"c":44.8},
{"l":62.5,"c":43.1},{"l":59.8,"c":42.8},{"l":57.2,"c":43.2},{"l":54.7,"c":42.9},{"l":52.2,"c":43.1},{"l":49.7,"c":42.8},{"l":47.2,"c":43.2},{"l":44.7,"c":42.9},{"l":42.2,"c":43.1},{"l":39.7,"c":42.8},{"l":37.2,"c":43.2},{"l":34.6,"c":42.9},
{"l":62.0,"c":41.5},{"l":59.4,"c":41.2},{"l":56.9,"c":41.6},{"l":54.4,"c":41.3},{"l":51.9,"c":41.5},{"l":49.4,"c":41.2},{"l":46.9,"c":41.6},{"l":44.4,"c":41.3},{"l":41.9,"c":41.5},{"l":39.4,"c":41.2},{"l":36.9,"c":41.6},
{"l":61.2,"c":39.9},{"l":58.6,"c":39.6},{"l":56.1,"c":40.0},{"l":53.6,"c":39.7},{"l":51.1,"c":39.9},{"l":48.6,"c":39.6},{"l":46.1,"c":40.0},{"l":43.6,"c":39.7},{"l":41.1,"c":39.9},{"l":38.6,"c":39.6},
{"l":60.9,"c":38.3},{"l":58.4,"c":38.0},{"l":55.9,"c":38.4},{"l":53.4,"c":38.1},{"l":50.9,"c":38.3},{"l":48.4,"c":38.0},{"l":45.9,"c":38.4},{"l":43.4,"c":38.1},{"l":40.9,"c":38.3},
{"l":61.4,"c":36.7},{"l":58.8,"c":36.4},{"l":56.2,"c":36.8},{"l":53.7,"c":36.5},{"l":51.2,"c":36.7},{"l":48.6,"c":36.4},{"l":46.0,"c":36.8},{"l":43.4,"c":36.5},
{"l":60.8,"c":35.1},{"l":58.0,"c":34.8},{"l":55.4,"c":35.2},{"l":52.8,"c":34.9},{"l":50.2,"c":35.1},{"l":47.6,"c":34.8},{"l":45.0,"c":35.2}
]
},
"vconcat": [
{
  "width": 528,
  "height": 117,
  "data": {"name": "zones"},
  "mark": {"type": "rect", "cornerRadius": 2},
  "encoding": {
    "x": {"field": "zone", "type": "nominal", "sort": null,
      "scale": {"type": "band", "domain": ["Critical Replacement and Renewal", "Priority Replacement and Renewal", "Priority Monitoring", "Opportunistic Replacement and Renewal", "Monitor", "Run to Fail"], "paddingInner": 0.416, "paddingOuter": 0},
      "axis": {"orient": "top", "title": null, "labelExpr": "split(replace(datum.label, ' and ', '|and '), '|')"}},
    "color": {"field": "zone", "type": "nominal",
      "scale": {"domain": ["Critical Replacement and Renewal", "Priority Replacement and Renewal", "Priority Monitoring", "Opportunistic Replacement and Renewal", "Monitor", "Run to Fail"], "range": ["#f04348", "#f68f4f", "#fefc03", "#0485c9", "#71ae48", "#2b5a7d"]},
      "legend": null}
  }
},
{
  "width": 528,
  "height": 1140,
  "layer": [
    {
      "data": {"name": "cells"},
      "mark": {"type": "rect"},
      "encoding": {
        "x": {"field": "l0", "type": "quantitative", "scale": {"domain": [0, 100], "reverse": true, "nice": false, "zero": false}, "title": "Likelihood of Failure"},
        "x2": {"field": "l1"},
        "y": {"field": "c0", "type": "quantitative", "scale": {"domain": [0, 100], "nice": false, "zero": false}, "title": "Consequence of Failure"},
        "y2": {"field": "c1"},
        "color": {"field": "zone", "type": "nominal",
          "scale": {"domain": ["Critical Replacement and Renewal", "Priority Replacement and Renewal", "Priority Monitoring", "Opportunistic Replacement and Renewal", "Monitor", "Run to Fail"], "range": ["#f04348", "#f68f4f", "#fefc03", "#0485c9", "#71ae48", "#2b5a7d"]},
          "legend": null}
      }
    },
    {
      "data": {"name": "annotation"},
      "mark": {"type": "point", "shape": "M0,-1C0.3963,-1,0.7176,-0.5523,0.7176,0C0.7176,0.5523,0.3963,1,0,1C-0.3963,1,-0.7176,0.5523,-0.7176,0C-0.7176,-0.5523,-0.3963,-1,0,-1Z", "filled": true, "fill": "#ffffff", "fillOpacity": 0.72, "opacity": 1, "strokeWidth": 0, "size": 274576, "clip": true},
      "encoding": {
        "x": {"datum": 34.5, "type": "quantitative", "title": "Likelihood of Failure"},
        "y": {"datum": 21.7, "type": "quantitative", "title": "Consequence of Failure"}
      }
    },
    {
      "data": {"name": "assets"},
      "mark": {"type": "circle", "size": 62, "color": "#3b4247", "opacity": 1},
      "encoding": {
        "x": {"field": "l", "type": "quantitative", "title": "Likelihood of Failure"},
        "y": {"field": "c", "type": "quantitative", "title": "Consequence of Failure"}
      }
    },
    {
      "data": {"name": "cells"},
      "mark": {"type": "rect", "fillOpacity": 0, "stroke": "#ffffff", "strokeWidth": 3.5},
      "encoding": {
        "x": {"field": "l0", "type": "quantitative", "title": "Likelihood of Failure"},
        "x2": {"field": "l1"},
        "y": {"field": "c0", "type": "quantitative", "title": "Consequence of Failure"},
        "y2": {"field": "c1"}
      }
    },
    {
      "data": {"name": "annotation"},
      "mark": {"type": "text", "angle": 270, "align": "center", "baseline": "middle", "fontSize": 42, "color": "#555555", "font": "DejaVu Sans"},
      "encoding": {
        "x": {"datum": 39.4, "type": "quantitative", "title": "Likelihood of Failure"},
        "y": {"datum": 21.4, "type": "quantitative", "title": "Consequence of Failure"},
        "text": {"field": "label", "type": "nominal"}
      }
    },
    {
      "data": {"name": "annotation"},
      "mark": {"type": "point", "shape": "M0,0L0.74,2L-0.74,2Z", "filled": true, "color": "#595959", "opacity": 1, "size": 729, "strokeWidth": 0},
      "encoding": {
        "x": {"datum": 106.06, "type": "quantitative", "title": "Likelihood of Failure"},
        "y": {"datum": 100, "type": "quantitative", "title": "Consequence of Failure"}
      }
    },
    {
      "data": {"name": "annotation"},
      "mark": {"type": "point", "shape": "M0,0L2,-0.74L2,0.74Z", "filled": true, "color": "#595959", "opacity": 1, "size": 729, "strokeWidth": 0},
      "encoding": {
        "x": {"datum": 100, "type": "quantitative", "title": "Likelihood of Failure"},
        "y": {"datum": -3.07, "type": "quantitative", "title": "Consequence of Failure"}
      }
    }
  ]
}
]
}
